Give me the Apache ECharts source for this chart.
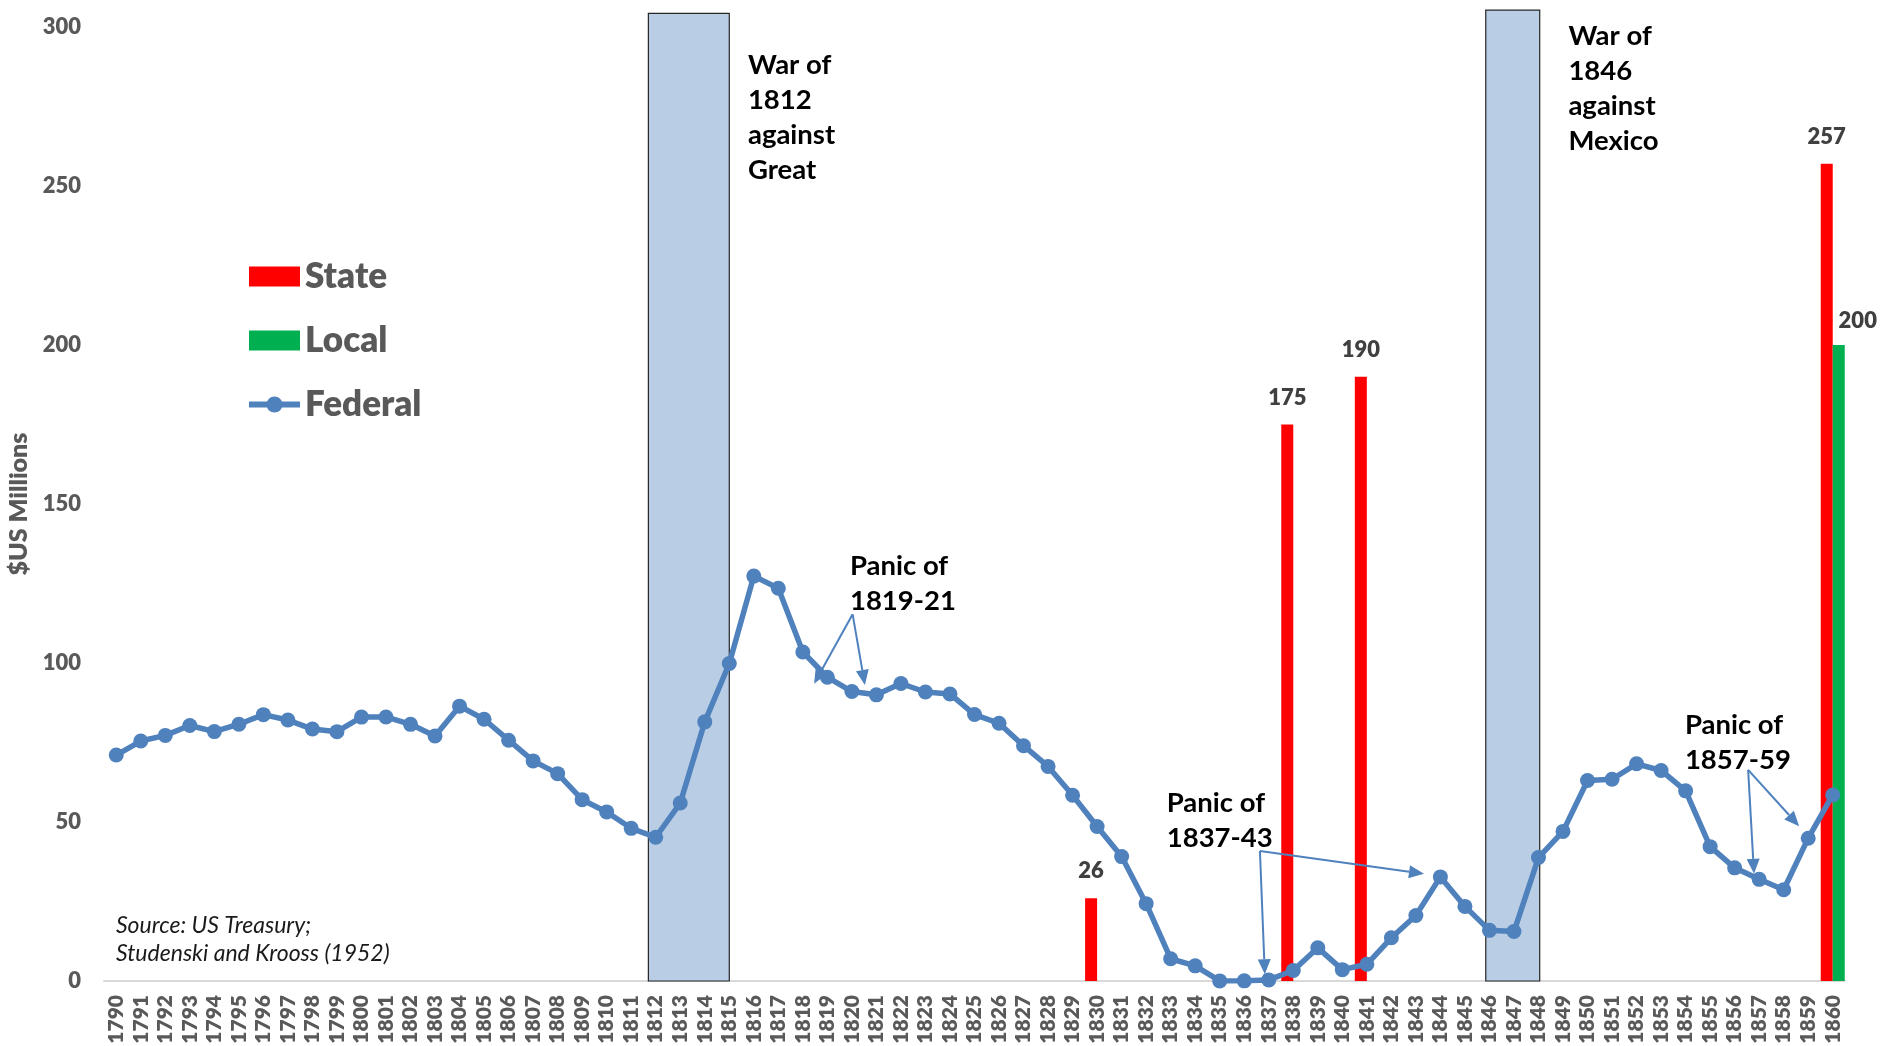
<!DOCTYPE html>
<html>
<head>
<meta charset="utf-8">
<title>US public debt, 1790-1860</title>
<script src="https://cdn.jsdelivr.net/npm/echarts@6/dist/echarts.min.js"></script>
<style>
  html, body { margin: 0; padding: 0; background: #ffffff; }
  #chart { width: 1882px; height: 1046px; }
</style>
</head>
<body>
<div id="chart"></div>
<script>
// ---- Data -------------------------------------------------------------
const years = [
  '1790','1791','1792','1793','1794','1795','1796','1797','1798','1799',
  '1800','1801','1802','1803','1804','1805','1806','1807','1808','1809',
  '1810','1811','1812','1813','1814','1815','1816','1817','1818','1819',
  '1820','1821','1822','1823','1824','1825','1826','1827','1828','1829',
  '1830','1831','1832','1833','1834','1835','1836','1837','1838','1839',
  '1840','1841','1842','1843','1844','1845','1846','1847','1848','1849',
  '1850','1851','1852','1853','1854','1855','1856','1857','1858','1859',
  '1860'
];

// Federal debt outstanding, $US millions
const federalDebt = [
  71.06, 75.46, 77.23, 80.35, 78.43, 80.75, 83.76, 82.06, 79.23, 78.41,
  82.98, 83.04, 80.71, 77.05, 86.43, 82.31, 75.72, 69.22, 65.20, 57.02,
  53.17, 48.01, 45.21, 55.96, 81.49, 99.83, 127.33, 123.49, 103.47, 95.53,
  91.02, 89.99, 93.55, 90.88, 90.27, 83.79, 81.05, 73.99, 67.48, 58.42,
  48.57, 39.12, 24.32, 7.00, 4.76, 0.03, 0.04, 0.34, 3.31, 10.43,
  3.57, 5.25, 13.59, 20.60, 32.74, 23.46, 15.93, 15.55, 38.83, 47.04,
  63.06, 63.45, 68.30, 66.20, 59.80, 42.24, 35.59, 31.97, 28.70, 44.91,
  58.50
];

// State and local debt, benchmark years only
const stateYears = ['1830', '1838', '1841', '1860'];
const stateDebt  = [26, 175, 190, 257];
const localYears = ['1860'];
const localDebt  = [200];

// Wars (shaded bands, in years)
const wars = [
  { label: 'War of\n1812\nagainst\nGreat',  start: 1811.7,  end: 1815.0 },
  { label: 'War of\n1846\nagainst\nMexico', start: 1845.85, end: 1848.05 }
];

// Financial panics and the points their arrows point at
const panics = [
  { label: 'Panic of\n1819-21', targets: [[1818.46, 93.5], [1820.53, 93.1]] },
  { label: 'Panic of\n1837-43', targets: [[1836.84, 2.1],  [1843.33, 33.7]] },
  { label: 'Panic of\n1857-59', targets: [[1856.79, 33.7], [1858.63, 48.7]] }
];

// ---- Annotation placement (year, $M) ------------------------------------
const warLayout = [
  { top: 304.3, text: [1815.76, 288.0] },
  { top: 305.3, text: [1849.22, 297.2] }
];
const panicLayout = [
  { text: [1819.92, 130.5], tail: [1820.03, 115.3] },
  { text: [1832.84, 55.8],  tail: [1836.64, 40.9] },
  { text: [1853.97, 80.6],  tail: [1856.55, 66.4] }
];

// ---- Styling -------------------------------------------------------------
const FONT = 'Lato, "Open Sans", "Noto Sans", sans-serif';
const HEAVY = 800;
const AXIS_GREY = '#595959';
const BLUE = '#4F81BD';
const NOTE_LINE_HEIGHT = 35;

function sparse(keys, values) {
  return years.map(y => {
    const i = keys.indexOf(y);
    return i >= 0 ? values[i] : null;
  });
}

function arrowParts(api, from, to) {
  const a = api.coord(from), b = api.coord(to);
  const dx = b[0] - a[0], dy = b[1] - a[1];
  const len = Math.hypot(dx, dy) || 1;
  const ux = dx / len, uy = dy / len;
  const headLen = 15, headHalf = 6.5;
  const bx = b[0] - ux * headLen, by = b[1] - uy * headLen;
  return [
    { type: 'line', shape: { x1: a[0], y1: a[1], x2: bx, y2: by },
      style: { stroke: BLUE, lineWidth: 2 } },
    { type: 'polygon',
      shape: { points: [[b[0], b[1]], [bx - uy * headHalf, by + ux * headHalf], [bx + uy * headHalf, by - ux * headHalf]] },
      style: { fill: BLUE } }
  ];
}

function noteText(api, anchor, text) {
  const p = api.coord(anchor);
  return {
    type: 'text', x: p[0], y: p[1] - NOTE_LINE_HEIGHT / 2,
    style: {
      text: text, fill: '#000000', fontFamily: FONT, fontWeight: 'bold', fontSize: 27.5,
      lineHeight: NOTE_LINE_HEIGHT, align: 'left', verticalAlign: 'top'
    }
  };
}

const barLabel = {
  show: true, position: 'top', distance: 16,
  color: '#404040', fontFamily: FONT, fontWeight: HEAVY, fontSize: 22,
  formatter: p => (p.value == null ? '' : String(p.value))
};

const chart = echarts.init(document.getElementById('chart'), null, { renderer: 'canvas' });

chart.setOption({
  animation: false,
  backgroundColor: '#ffffff',
  textStyle: { fontFamily: FONT },
  grid: { left: 104, right: 37, top: 27, bottom: 65, containLabel: false, outerBoundsMode: 'none' },
  legend: {
    data: [
      { name: 'State', icon: 'rect' },
      { name: 'Local', icon: 'rect' },
      { name: 'Federal' }
    ],
    orient: 'vertical',
    left: 246, top: 259, padding: 0,
    itemWidth: 51, itemHeight: 20, itemGap: 29,
    selectedMode: false,
    textStyle: { color: AXIS_GREY, fontFamily: FONT, fontWeight: HEAVY, fontSize: 35 },
    lineStyle: { width: 6 }
  },
  xAxis: [
    {
      type: 'category', data: years, boundaryGap: true,
      axisLine: { show: true, lineStyle: { color: '#D9D9D9', width: 2 } },
      axisTick: { show: false },
      splitLine: { show: false },
      axisLabel: {
        interval: 0, rotate: 90, margin: 14,
        color: AXIS_GREY, fontFamily: FONT, fontWeight: HEAVY, fontSize: 21
      }
    },
    { type: 'value', min: 1789.5, max: 1860.5, show: false, splitLine: { show: false } }
  ],
  yAxis: {
    type: 'value', min: 0, max: 300, interval: 50,
    axisLine: { show: false }, axisTick: { show: false }, splitLine: { show: false },
    axisLabel: { margin: 23, color: AXIS_GREY, fontFamily: FONT, fontWeight: HEAVY, fontSize: 22 },
    name: '$US Millions', nameLocation: 'middle', nameRotate: 90, nameGap: 68,
    nameTextStyle: { color: AXIS_GREY, fontFamily: FONT, fontWeight: HEAVY, fontSize: 25 }
  },
  graphic: [{
    type: 'text', left: 116, top: 912,
    style: {
      text: 'Source: US Treasury;\nStudenski and Krooss (1952)',
      fill: '#1a1a1a', fontFamily: FONT, fontStyle: 'italic', fontSize: 23, lineHeight: 28
    }
  }],
  series: [
    {
      type: 'custom', name: 'wars', xAxisIndex: 1, yAxisIndex: 0, z: 1, silent: true, clip: false,
      data: wars.map(w => [w.start, 0]),
      renderItem: (params, api) => {
        const w = wars[params.dataIndex], lay = warLayout[params.dataIndex];
        const p0 = api.coord([w.start, lay.top]);
        const p1 = api.coord([w.end, 0]);
        return {
          type: 'group',
          children: [
            { type: 'rect', shape: { x: p0[0], y: p0[1], width: p1[0] - p0[0], height: p1[1] - p0[1] },
              style: { fill: '#B9CDE5', stroke: '#262626', lineWidth: 1.2 } },
            noteText(api, lay.text, w.label)
          ]
        };
      }
    },
    {
      type: 'bar', name: 'State', data: sparse(stateYears, stateDebt),
      xAxisIndex: 0, z: 2, barGap: '0%', barCategoryGap: '2%',
      itemStyle: { color: '#FF0000' }, label: barLabel
    },
    {
      type: 'bar', name: 'Local', data: sparse(localYears, localDebt),
      xAxisIndex: 0, z: 2, barGap: '0%', barCategoryGap: '2%',
      itemStyle: { color: '#00B050' }, label: Object.assign({}, barLabel, { offset: [19, 3] })
    },
    {
      type: 'line', name: 'Federal', data: federalDebt, xAxisIndex: 0, z: 3,
      symbol: 'circle', symbolSize: 15, showSymbol: true,
      lineStyle: { color: BLUE, width: 5.5 },
      itemStyle: { color: BLUE }
    },
    {
      type: 'custom', name: 'panics', xAxisIndex: 1, yAxisIndex: 0, z: 5, silent: true, clip: false,
      data: panicLayout.map(l => l.tail),
      renderItem: (params, api) => {
        const p = panics[params.dataIndex], lay = panicLayout[params.dataIndex];
        let children = [noteText(api, lay.text, p.label)];
        p.targets.forEach(t => { children = children.concat(arrowParts(api, lay.tail, t)); });
        return { type: 'group', children: children };
      }
    }
  ]
});
</script>
</body>
</html>
